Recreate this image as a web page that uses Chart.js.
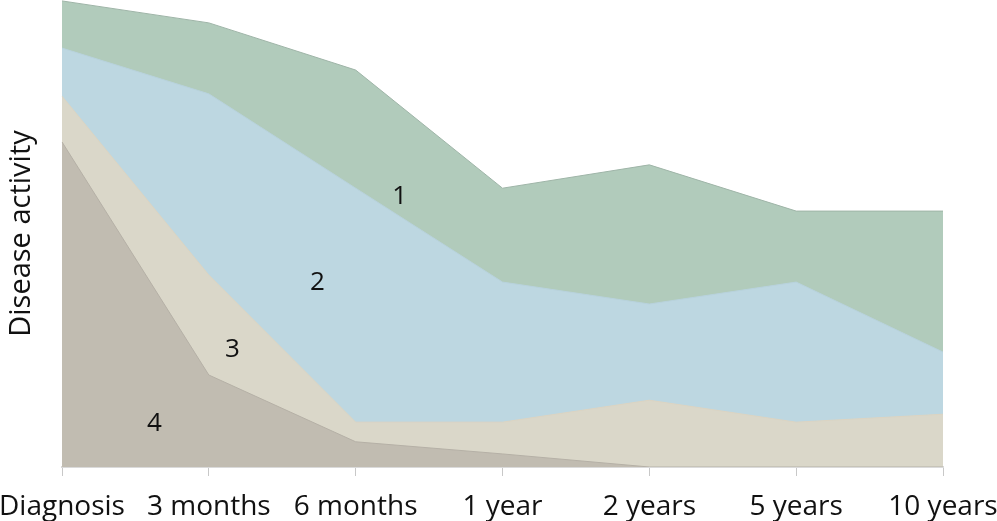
<!DOCTYPE html>
<html>
<head>
<meta charset="utf-8">
<script src="https://cdn.jsdelivr.net/npm/chart.js@4/dist/chart.umd.min.js"></script>
<style>
	html, body { margin: 0; padding: 0; background: #fff; }
	#wrap { width: 997px; height: 521px; position: relative; }
</style>
</head>
<body>
<div id="wrap"><canvas id="activity-chart"></canvas></div>
<script>
const periods = ['Diagnosis', '3 months', '6 months', '1 year', '2 years', '5 years', '10 years'];

// top edge of each band, 0-100 scale
const band1 = [99.8, 95.1, 85.0, 59.7, 64.7, 54.8, 54.8];
const band2 = [89.7, 79.9, 59.7, 39.6, 34.9, 39.6, 24.6];
const band3 = [79.4, 41.1, 9.6, 9.6, 14.3, 9.6, 11.3];
const band4 = [69.6, 19.7, 5.4, 2.8, 0, 0, 0];

const bandLabels = ['1', '2', '3', '4'];
const labelX = [2.30, 1.74, 1.16, 0.63];
const labelY = [58.0, 39.4, 25.1, 9.2];

const font = 'Open Sans';

const areaLabels = {
	id: 'areaLabels',
	afterDatasetsDraw(chart) {
		const { ctx, scales } = chart;
		ctx.save();
		ctx.font = `26px "${font}"`;
		ctx.fillStyle = '#111';
		ctx.textAlign = 'center';
		ctx.textBaseline = 'middle';
		bandLabels.forEach((t, i) => {
			ctx.fillText(t, scales.x.getPixelForValue(labelX[i]), scales.y.getPixelForValue(labelY[i]));
		});
		ctx.restore();
	},
};

const band = (data, color, line) => ({
	data,
	backgroundColor: color,
	borderColor: line,
	borderWidth: 1,
	fill: 'origin',
	pointRadius: 0,
	tension: 0,
});

new Chart(document.getElementById('activity-chart'), {
	type: 'line',
	data: {
		labels: periods,
		datasets: [
			band(band4, '#c1bcb1', '#b5b0a6'),
			band(band3, '#dad7c9', '#dcd4c2'),
			band(band2, '#bdd7e1', '#b8d2dc'),
			band(band1, '#b1cbbb', '#9fb5a8'),
		],
	},
	options: {
		responsive: true,
		maintainAspectRatio: false,
		animation: false,
		layout: { padding: { top: 0, right: 54, bottom: 0, left: 0 } },
		plugins: {
			legend: { display: false },
			tooltip: { enabled: false },
		},
		scales: {
			x: {
				offset: false,
				grid: {
					drawOnChartArea: false,
					drawTicks: true,
					tickLength: 9,
					color: '#c8c8c8',
				},
				border: { color: '#dadada', width: 2 },
				ticks: {
					color: '#111',
					padding: 14,
					maxRotation: 0,
					autoSkip: false,
					font: { family: font, size: 28 },
				},
				afterFit(scale) {
					scale.height = 54;
					scale.paddingLeft = 0;
					scale.paddingRight = 0;
				},
			},
			y: {
				min: 0,
				max: 100,
				grid: { display: false },
				border: { display: false },
				ticks: { display: false },
				title: {
					display: true,
					text: 'Disease activity',
					color: '#111',
					padding: { top: 4, bottom: 0 },
					font: { family: font, size: 29 },
				},
				afterFit(scale) {
					scale.width = 62;
				},
			},
		},
	},
	plugins: [areaLabels],
});
</script>
</body>
</html>
